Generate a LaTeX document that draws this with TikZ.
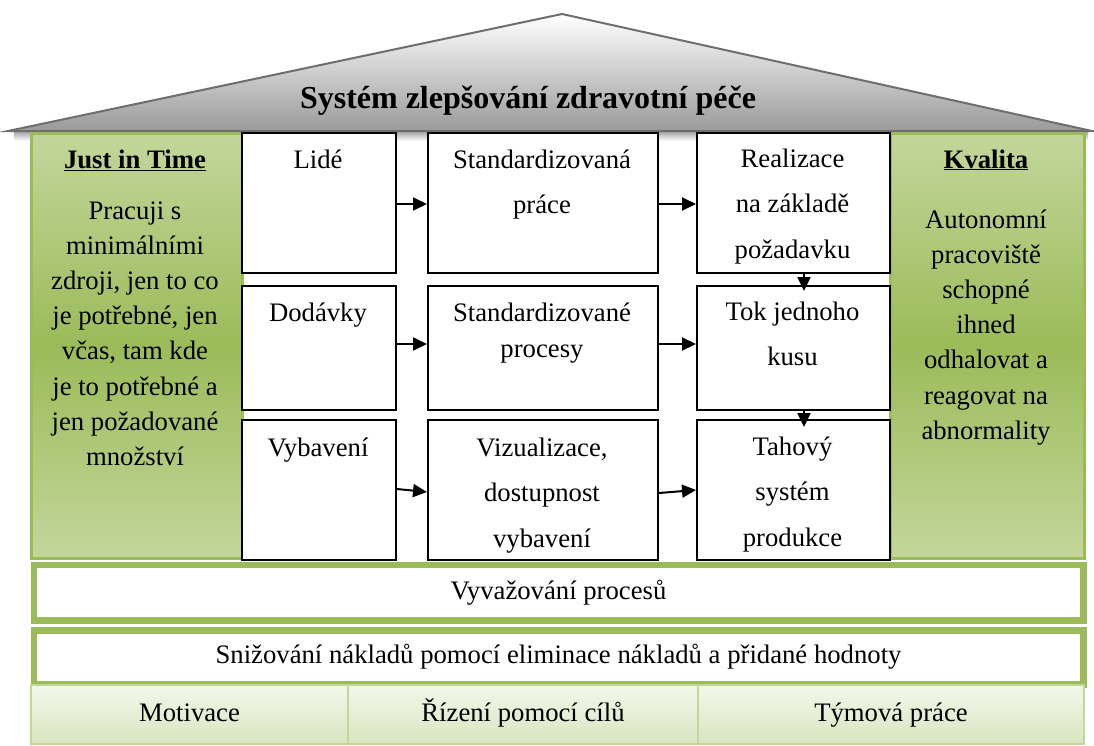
\documentclass[tikz,border=0pt]{standalone}
\usepackage{fontspec}
\setmainfont{Liberation Serif}
\usetikzlibrary{arrows.meta}
\definecolor{olive}{HTML}{9BBB59}
\definecolor{olivelight}{HTML}{C3D69B}
\definecolor{roofgray}{HTML}{9A9A9A}
\definecolor{roofline}{HTML}{6E6E6E}
\definecolor{cellline}{HTML}{C3D69B}
\definecolor{celltop}{HTML}{F3F7EA}
\definecolor{cellbottom}{HTML}{D9E5C1}
\begin{document}
\begin{tikzpicture}[x=1pt,y=-1pt,
  stepbox/.style={draw=black,line width=2pt,fill=white,anchor=north west,inner sep=0pt},
  pillar/.style={draw=olive,line width=2.5pt,anchor=north west,inner sep=0pt,
    top color=olivelight,bottom color=olivelight,middle color=olive},
  bar/.style={draw=olive,line width=6.5pt,fill=white,anchor=north west,inner sep=0pt,
    font=\fontsize{26.7}{32}\selectfont,text height=18pt,text depth=5pt},
  basecell/.style={draw=cellline,line width=2pt,anchor=north west,inner sep=0pt,
    top color=celltop,bottom color=cellbottom,
    font=\fontsize{26.7}{32}\selectfont,text height=18pt,text depth=5pt},
  % multi-line texts are placed by the baseline of their last line
  boxtext/.style={anchor=base,align=center,inner sep=0pt,font=\fontsize{26.7}{45.5}\selectfont},
  pillartext/.style={anchor=base,align=center,inner sep=0pt,font=\fontsize{26.7}{35.2}\selectfont},
  heading/.style={anchor=base,inner sep=0pt,font=\bfseries\fontsize{26.7}{32}\selectfont},
  arr/.style={line width=2pt,-{Triangle[length=14pt,width=13pt]}}]
\useasboundingbox (0,0) rectangle (1094,745);

% roof
\shade[top color=black!45,bottom color=white] (14,129) rectangle (1088,141);
\path[draw=roofline,line width=2pt,top color=white,bottom color=roofgray]
  (8,131) -- (562,14) -- (1092,131) -- cycle;
\node[anchor=base,inner sep=0pt,font=\bfseries\fontsize{32}{38}\selectfont] (title)
  at (528,108) {Systém zlepšování zdravotní péče};

% pillars
\node[pillar,minimum width=211pt,minimum height=425pt] (jit) at (30,132) {};
\node[pillar,minimum width=194pt,minimum height=425pt] (kval) at (889,132) {};
\node[heading] (jith) at (135,168) {\underline{Just in Time}};
\node[pillartext] (jitt) at (135,465.4) {Pracuji s\\minimálními\\zdroji, jen to co\\je potřebné, jen\\včas, tam kde\\je to potřebné a\\jen požadované\\množství};
\node[heading] (kvalh) at (986,168) {\underline{Kvalita}};
\node[pillartext] (kvalt) at (986,439.2) {Autonomní\\pracoviště\\schopné\\ihned\\odhalovat a\\reagovat na\\abnormality};

% boxes, row 1
\node[stepbox,minimum width=154pt,minimum height=140pt] (lide) at (241,132) {};
\node[stepbox,minimum width=230pt,minimum height=140pt] (sprace) at (427,132) {};
\node[stepbox,minimum width=193pt,minimum height=140pt] (real) at (696,132) {};
% boxes, row 2
\node[stepbox,minimum width=154pt,minimum height=124pt] (dod) at (241,285) {};
\node[stepbox,minimum width=230pt,minimum height=124pt] (sproc) at (427,285) {};
\node[stepbox,minimum width=193pt,minimum height=124pt] (tok) at (696,285) {};
% boxes, row 3
\node[stepbox,minimum width=154pt,minimum height=140pt] (vyb) at (241,419) {};
\node[stepbox,minimum width=230pt,minimum height=140pt] (viz) at (427,419) {};
\node[stepbox,minimum width=193pt,minimum height=140pt] (tah) at (696,419) {};

% box texts
\node[boxtext] (lidet) at (318,168) {Lidé};
\node[boxtext] (spracet) at (542,213.5) {Standardizovaná\\práce};
\node[boxtext] (realt) at (792.5,258) {Realizace\\na základě\\požadavku};
\node[boxtext] (dodt) at (318,321) {Dodávky};
\node[boxtext,font=\fontsize{26.7}{36}\selectfont] (sproct) at (542,357) {Standardizované\\procesy};
\node[boxtext] (tokt) at (792.5,365.5) {Tok jednoho\\kusu};
\node[boxtext] (vybt) at (318,456) {Vybavení};
\node[boxtext] (vizt) at (542,547) {Vizualizace,\\dostupnost\\vybavení};
\node[boxtext] (taht) at (792.5,546) {Tahový\\systém\\produkce};

% arrows
\draw[arr] ([yshift=-1pt]lide.east) -- ([yshift=-1pt]sprace.west);
\draw[arr] ([yshift=-1pt]sprace.east) -- ([yshift=-1pt]real.west);
\draw[arr] ([yshift=4pt]dod.east) -- ([yshift=4pt]sproc.west);
\draw[arr] ([yshift=4pt]sproc.east) -- ([yshift=4pt]tok.west);
\draw[arr] ([yshift=1pt]vyb.east) -- ([yshift=-2pt]viz.west);
\draw[arr] ([yshift=-3pt]viz.east) -- (tah.west);
\draw[arr] ([xshift=10.5pt]real.south) -- ([xshift=10.5pt,yshift=-6pt]tok.north);
\draw[arr] ([xshift=10.5pt]tok.south) -- ([xshift=10.5pt,yshift=-8pt]tah.north);

% foundation bars
\node[bar,minimum width=1049.5pt,minimum height=55.5pt] (vyv) at (30.5,561.5) {Vyvažování procesů};
\node[bar,minimum width=1049.5pt,minimum height=54pt] (sniz) at (30.5,627) {Snižování nákladů pomocí eliminace nákladů a přidané hodnoty};

% base cells
\node[basecell,minimum width=317pt,minimum height=59pt] (mot) at (30,684) {Motivace};
\node[basecell,minimum width=350pt,minimum height=59pt] (riz) at (347,684) {Řízení pomocí cílů};
\node[basecell,minimum width=386pt,minimum height=59pt] (tym) at (697,684) {Týmová práce};
\end{tikzpicture}
\end{document}
